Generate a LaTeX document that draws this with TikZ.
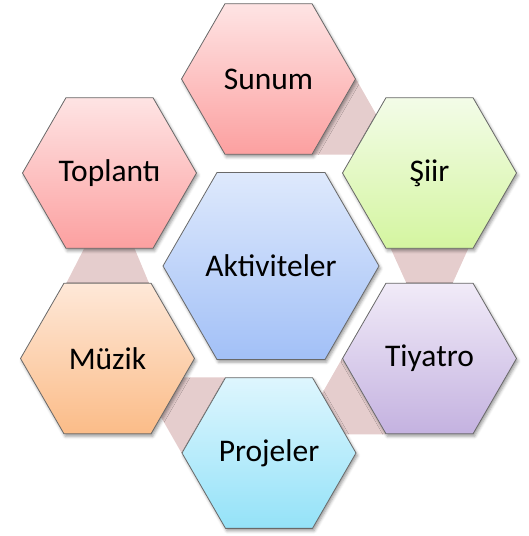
\documentclass[tikz,border=0pt]{standalone}
\usepackage{fontspec}
\setmainfont{Carlito}
\usetikzlibrary{shapes.geometric,calc,shadows.blur}
\pgfdeclarelayer{bg}
\pgfsetlayers{bg,main}
\definecolor{bandcol}{RGB}{229,205,205}
\definecolor{edgecol}{RGB}{105,105,105}
\definecolor{redT}{RGB}{254,228,228}\definecolor{redB}{RGB}{252,160,160}
\definecolor{grnT}{RGB}{243,252,232}\definecolor{grnB}{RGB}{212,245,160}
\definecolor{bluT}{RGB}{222,233,252}\definecolor{bluB}{RGB}{162,192,247}
\definecolor{orgT}{RGB}{254,232,216}\definecolor{orgB}{RGB}{251,188,136}
\definecolor{purT}{RGB}{241,235,248}\definecolor{purB}{RGB}{196,178,224}
\definecolor{cyaT}{RGB}{222,246,254}\definecolor{cyaB}{RGB}{148,226,248}
\begin{document}
\begin{tikzpicture}[x=1pt,y=-1pt,
  hexbase/.style={regular polygon, regular polygon sides=6, inner sep=0pt,
    draw=edgecol, line width=0.8pt, text=black,
    font=\fontsize{31.5}{36}\selectfont,
    blur shadow={shadow xshift=1.5pt, shadow yshift=-2.5pt, shadow blur radius=3pt, shadow opacity=40}},
  outerhex/.style={hexbase, minimum size=174pt},
  innerhex/.style={hexbase, minimum size=216pt},
  bandfill/.style={fill=bandcol, draw=none}]
\useasboundingbox (0,0) rectangle (528,536);
\node[outerhex, top color=redT, bottom color=redB] (sunum) at (268.5,79) {Sunum};
\node[outerhex, top color=redT, bottom color=redB] (toplanti) at (109.5,173) {Toplantı};
\node[outerhex, top color=grnT, bottom color=grnB] (siir) at (429.5,173) {Şiir};
\node[innerhex, top color=bluT, bottom color=bluB] (akt) at (271,266) {Aktiviteler};
\node[outerhex, top color=orgT, bottom color=orgB] (muzik) at (107.5,358.5) {Müzik};
\node[outerhex, top color=purT, bottom color=purB] (tiyatro) at (429.5,358.5) {Tiyatro};
\node[outerhex, top color=cyaT, bottom color=cyaB] (projeler) at (269,453) {Projeler};
\begin{pgfonlayer}{bg}
\fill[bandfill] (sunum.300) -- (sunum.0) -- ($(sunum.300)+(87,0)$) -- cycle;
\fill[bandfill] ($(siir.south)+(-40.5,-4)$) -- ($(siir.south)+(40.5,-4)$) -- ($(tiyatro.north)+(21.5,4)$) -- ($(tiyatro.north)+(-21.5,4)$) -- cycle;
\fill[bandfill] (tiyatro.240) -- (tiyatro.180) -- ($(tiyatro.240)+(-87,0)$) -- cycle;
\fill[bandfill] (projeler.120) -- (projeler.180) -- ($(projeler.120)+(-87,0)$) -- cycle;
\fill[bandfill] ($(toplanti.south)+(-23.5,-4)$) -- ($(toplanti.south)+(23.5,-4)$) -- ($(muzik.north)+(43,4)$) -- ($(muzik.north)+(-43,4)$) -- cycle;
\end{pgfonlayer}
\end{tikzpicture}
\end{document}
